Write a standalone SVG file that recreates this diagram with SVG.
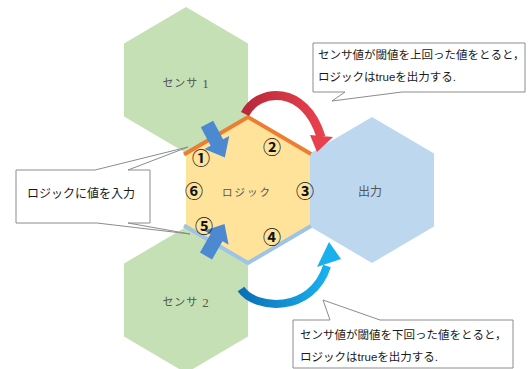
<svg xmlns="http://www.w3.org/2000/svg" width="530" height="369" viewBox="0 0 530 369">
<style>
.sensor{fill:#c5e0b4}
.logic{fill:#ffe39b}
.out{fill:#bdd7ee}
.callout{fill:#ffffff;stroke:#8c8c8c;stroke-width:1}
.ctext{font-family:"Liberation Sans","Noto Sans CJK JP",sans-serif;font-size:11.5px;fill:#1a1a1a}
.label{font-family:"Liberation Serif","Noto Sans CJK JP",serif;font-size:11px;fill:#555}
.num{font-family:"Noto Sans CJK JP",sans-serif;font-size:18px;font-weight:bold;fill:#111;text-anchor:middle;dominant-baseline:central}
.blk{fill:#4c89d1}
</style>
<defs>
<linearGradient id="redg" x1="0" y1="0" x2="1" y2="0">
<stop offset="0" stop-color="#b8283a"/>
<stop offset="1" stop-color="#e8414e"/>
</linearGradient>
<linearGradient id="blueg" x1="0" y1="0" x2="1" y2="0">
<stop offset="0" stop-color="#0b6fb6"/>
<stop offset="1" stop-color="#1ab0ee"/>
</linearGradient>
</defs>

<g id="sensor1">
<polygon class="sensor" points="186,7 248,43.5 248,116.5 186,153 124,116.5 124,43.5"/>
<text class="label" x="186" y="83" text-anchor="middle" dominant-baseline="central" letter-spacing="1">センサ <tspan style="font-size:13px">1</tspan></text>
</g>
<g id="sensor2">
<polygon class="sensor" points="186,227 248,263.5 248,336.5 186,373 124,336.5 124,263.5"/>
<text class="label" x="186" y="302" text-anchor="middle" dominant-baseline="central" letter-spacing="1">センサ <tspan style="font-size:13px">2</tspan></text>
</g>
<g id="output">
<polygon class="out" points="372,117 434,153.5 434,226.5 372,263 310,226.5 310,153.5"/>
<text class="label" x="370" y="192" text-anchor="middle" dominant-baseline="central" style="font-size:12px">出力</text>
</g>
<g id="logic">
<polygon class="logic" points="248,117 310,153.5 310,226.5 248,263 186,226.5 186,153.5"/>
<text class="label" x="247" y="192" text-anchor="middle" dominant-baseline="central" letter-spacing="2" style="font-size:10.5px">ロジック</text>
</g>

<g id="connectors">
<polyline points="184,154.5 248,117 311,154" fill="none" stroke="#ed7d31" stroke-width="4"/>
<polyline points="184,225.5 248,263 311,226" fill="none" stroke="#9dc3e6" stroke-width="4"/>
<polygon class="blk" transform="translate(207,124) rotate(62)" points="0,-7 21,-7 21,-14 38,0 21,14 21,7 0,7"/>
<polygon class="blk" transform="translate(206,256) rotate(-60)" points="0,-7 21,-7 21,-14 37,0 21,14 21,7 0,7"/>
<path d="M245,114 C258,88 305,84 321,137" fill="none" stroke="url(#redg)" stroke-width="9"/>
<polygon points="310,135 333,137 317,152" fill="#e8414e"/>
<path d="M241,289 C255,310 312,314 327,266" fill="none" stroke="url(#blueg)" stroke-width="8"/>
<polygon points="317,267 341,259 329,242" fill="#1ab0ee"/>
</g>

<g id="nums">
<text class="num" x="201" y="157">①</text>
<text class="num" x="272" y="146">②</text>
<text class="num" x="305" y="190">③</text>
<text class="num" x="272" y="236">④</text>
<text class="num" x="204" y="225">⑤</text>
<text class="num" x="194" y="190">⑥</text>
</g>

<g id="callout-top">
<path class="callout" d="M313,43 H525 V92 H402 L332,101 L345,92 H313 Z"/>
<text class="ctext" x="318" y="55" dominant-baseline="central">センサ値が閾値を上回った値をとると，</text>
<text class="ctext" x="318" y="77" dominant-baseline="central">ロジックはtrueを出力する.</text>
</g>
<g id="callout-left">
<path class="callout" d="M16,170 H95 L188,147 L128,170 H150 V223 H128 L190,234 L97,223 H16 Z"/>
<text class="ctext" x="81" y="194" text-anchor="middle" dominant-baseline="central" style="font-size:12px">ロジックに値を入力</text>
</g>
<g id="callout-bottom">
<path class="callout" d="M293,320 H330 L323,300 L380,320 H513 V368 H293 Z"/>
<text class="ctext" x="300" y="335" dominant-baseline="central">センサ値が閾値を下回った値をとると，</text>
<text class="ctext" x="300" y="357" dominant-baseline="central">ロジックはtrueを出力する.</text>
</g>
</svg>
